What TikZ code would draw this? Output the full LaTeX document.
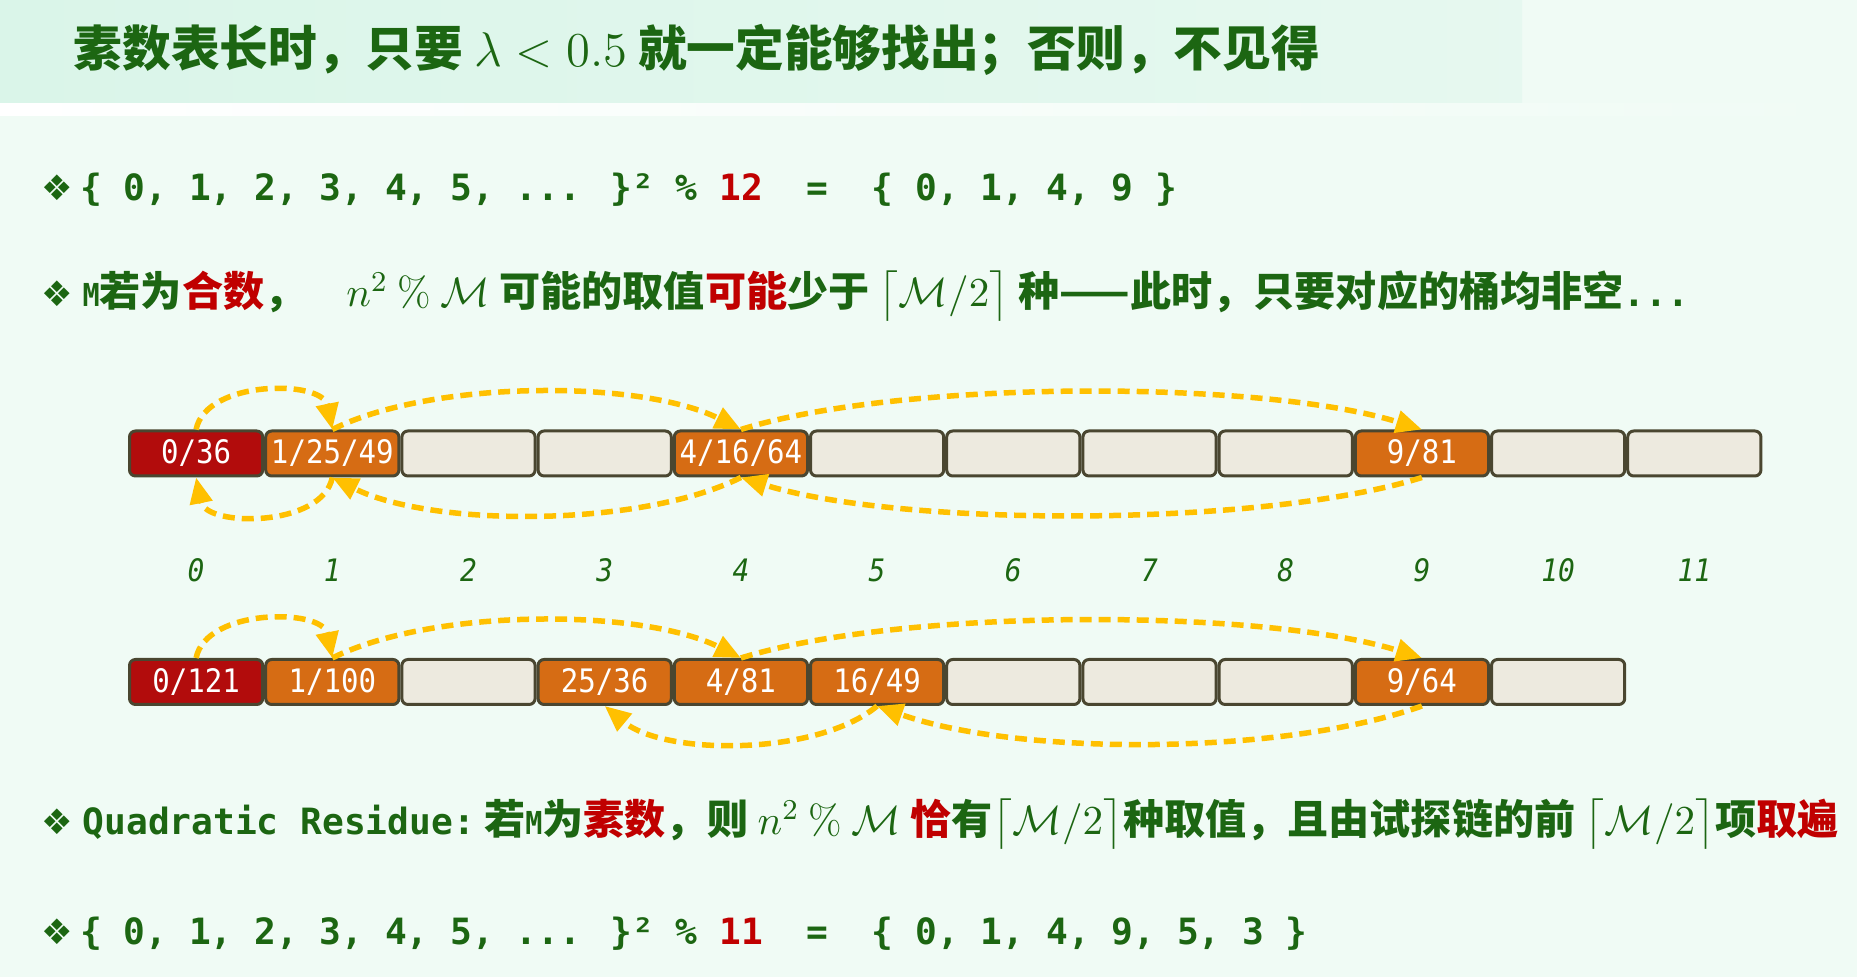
\documentclass[tikz,border=0pt]{standalone}
\usepackage{fix-cm}
\usepackage{amsmath}
\usepackage{fontspec}
\usetikzlibrary{positioning,arrows.meta}

\newfontfamily\cjk{Noto Sans CJK SC}
\newfontfamily\codefont{DejaVu Sans Mono}
\newfontfamily\cellfont{DejaVu Sans Mono}[FakeStretch=0.9]
\newfontfamily\dingfont{DejaVu Sans}

\definecolor{pagebg}{RGB}{240,251,245}
\definecolor{bandgreen}{RGB}{218,245,233}
\definecolor{inkgreen}{RGB}{28,102,18}
\definecolor{inkred}{RGB}{192,0,0}
\definecolor{edge}{RGB}{74,70,48}
\definecolor{cellempty}{RGB}{237,234,223}
\definecolor{cellorange}{RGB}{214,108,20}
\definecolor{cellred}{RGB}{178,12,12}
\definecolor{hopgold}{RGB}{255,192,0}

\newcommand{\redtxt}[1]{\textcolor{inkred}{#1}}
\newcommand{\bulletmark}{{\dingfont\fontsize{10}{12}\selectfont ❖}}
\newcommand{\code}[1]{{\codefont\bfseries\fontsize{10.3}{12}\selectfont #1}}
\newcommand{\ceilhalf}{\bigl\lceil\mathcal{M}/2\bigr\rceil}

\tikzset{
  bucket/.style={draw=edge, fill=cellempty, line width=0.3mm, rounded corners=0.6mm,
    minimum width=1.332cm, minimum height=0.45cm, inner sep=0pt,
    font=\cellfont\fontsize{9.2}{11}\selectfont},
  filled/.style={bucket, fill=cellorange, text=white},
  home/.style={bucket, fill=cellred, text=white},
  index/.style={text=inkgreen, inner sep=0pt, font=\cellfont\itshape\fontsize{8.8}{10}\selectfont},
  line/.style={anchor=west, text=inkgreen, inner sep=0pt, font=\cjk\bfseries\fontsize{11.7}{14}\selectfont},
  hop/.style={draw=hopgold, line width=0.55mm, dash pattern=on 1.2mm off 0.7mm,
    -{Triangle[length=2.6mm,width=2.2mm]}}
}

\begin{document}
\begin{tikzpicture}
		\useasboundingbox (0,0) rectangle (18.57,-9.77);
		% Background and title band
		\fill[pagebg] (0,0) rectangle (18.57,-9.77);
		\shade[left color=bandgreen, right color=bandgreen!45!pagebg] (0,0) rectangle (15.22,-1.04);
		\shade[left color=white, right color=pagebg] (0,-1.04) rectangle (18.57,-1.16);
		
		% Title
		\node (title) [line, font=\cjk\bfseries\fontsize{13.85}{16}\selectfont] at (0.73,-0.50) {素数表长时，只要 $\lambda<0.5$ 就一定能够找出；否则，不见得};
		
		% Text lines
		\node (squares12) [line] at (0.41,-1.90) {\bulletmark\,\code{\{ 0, 1, 2, 3, 4, 5, ... \}² \% \redtxt{12}~~=~~\{ 0, 1, 4, 9 \}}};
		\node (composite) [line] at (0.41,-2.96) {\bulletmark~{\cellfont\fontsize{9}{11}\selectfont M}若为\redtxt{合数}，\quad$n^2\ \%\ \mathcal{M}$ 可能的取值\redtxt{可能}少于 $\ceilhalf$ 种——此时，只要对应的桶均非空\code{...}};
		
		% Upper row of buckets, M = 12
		\node (upper0) [home, anchor=west] at (1.28,-4.535) {0/36};
		\node (upper1) [filled, right=0pt of upper0] {1/25/49};
		\node (upper2) [bucket, right=0pt of upper1] {};
		\node (upper3) [bucket, right=0pt of upper2] {};
		\node (upper4) [filled, right=0pt of upper3] {4/16/64};
		\node (upper5) [bucket, right=0pt of upper4] {};
		\node (upper6) [bucket, right=0pt of upper5] {};
		\node (upper7) [bucket, right=0pt of upper6] {};
		\node (upper8) [bucket, right=0pt of upper7] {};
		\node (upper9) [filled, right=0pt of upper8] {9/81};
		\node (upper10) [bucket, right=0pt of upper9] {};
		\node (upper11) [bucket, right=0pt of upper10] {};
		
		% Bucket indices
		\node (idx0) [index] at ([yshift=-1.165cm]upper0.center) {0};
		\node (idx1) [index] at ([yshift=-1.165cm]upper1.center) {1};
		\node (idx2) [index] at ([yshift=-1.165cm]upper2.center) {2};
		\node (idx3) [index] at ([yshift=-1.165cm]upper3.center) {3};
		\node (idx4) [index] at ([yshift=-1.165cm]upper4.center) {4};
		\node (idx5) [index] at ([yshift=-1.165cm]upper5.center) {5};
		\node (idx6) [index] at ([yshift=-1.165cm]upper6.center) {6};
		\node (idx7) [index] at ([yshift=-1.165cm]upper7.center) {7};
		\node (idx8) [index] at ([yshift=-1.165cm]upper8.center) {8};
		\node (idx9) [index] at ([yshift=-1.165cm]upper9.center) {9};
		\node (idx10) [index] at ([yshift=-1.165cm]upper10.center) {10};
		\node (idx11) [index] at ([yshift=-1.165cm]upper11.center) {11};
		
		% Lower row of buckets, M = 11
		\node (lower0) [home, anchor=west] at (1.28,-6.82) {0/121};
		\node (lower1) [filled, right=0pt of lower0] {1/100};
		\node (lower2) [bucket, right=0pt of lower1] {};
		\node (lower3) [filled, right=0pt of lower2] {25/36};
		\node (lower4) [filled, right=0pt of lower3] {4/81};
		\node (lower5) [filled, right=0pt of lower4] {16/49};
		\node (lower6) [bucket, right=0pt of lower5] {};
		\node (lower7) [bucket, right=0pt of lower6] {};
		\node (lower8) [bucket, right=0pt of lower7] {};
		\node (lower9) [filled, right=0pt of lower8] {9/64};
		\node (lower10) [bucket, right=0pt of lower9] {};
		
		% Probe chain of the upper row
		\draw[hop] (upper0.north) .. controls +(0.1,0.5) and +(-0.1,0.5) .. (upper1.north);
		\draw[hop] (upper1.north) .. controls +(1.0,0.5) and +(-1.0,0.5) .. (upper4.north);
		\draw[hop] (upper4.north) .. controls +(1.6,0.5) and +(-1.6,0.5) .. (upper9.north);
		\draw[hop] (upper9.south) .. controls +(-1.6,-0.5) and +(1.6,-0.5) .. (upper4.south);
		\draw[hop] (upper4.south) .. controls +(-1.0,-0.5) and +(1.0,-0.5) .. (upper1.south);
		\draw[hop] (upper1.south) .. controls +(-0.1,-0.5) and +(0.1,-0.5) .. (upper0.south);
		
		% Probe chain of the lower row
		\draw[hop] (lower0.north) .. controls +(0.1,0.5) and +(-0.1,0.5) .. (lower1.north);
		\draw[hop] (lower1.north) .. controls +(1.0,0.5) and +(-1.0,0.5) .. (lower4.north);
		\draw[hop] (lower4.north) .. controls +(1.6,0.5) and +(-1.6,0.5) .. (lower9.north);
		\draw[hop] (lower9.south) .. controls +(-1.4,-0.5) and +(1.4,-0.5) .. (lower5.south);
		\draw[hop] (lower5.south) .. controls +(-0.6,-0.5) and +(0.6,-0.5) .. (lower3.south);
		
		% Text lines below
		\node (residue) [line] at (0.41,-8.24) {\bulletmark~\code{Quadratic Residue:}~若{\cellfont\fontsize{9}{11}\selectfont M}为\redtxt{素数}，则 $n^2\ \%\ \mathcal{M}$ \redtxt{恰}有$\ceilhalf$种取值，且由试探链的前 $\ceilhalf$项\redtxt{取遍}};
		\node (squares11) [line] at (0.41,-9.34) {\bulletmark\,\code{\{ 0, 1, 2, 3, 4, 5, ... \}² \% \redtxt{11}~~=~~\{ 0, 1, 4, 9, 5, 3 \}}};
	\end{tikzpicture}
\end{document}
